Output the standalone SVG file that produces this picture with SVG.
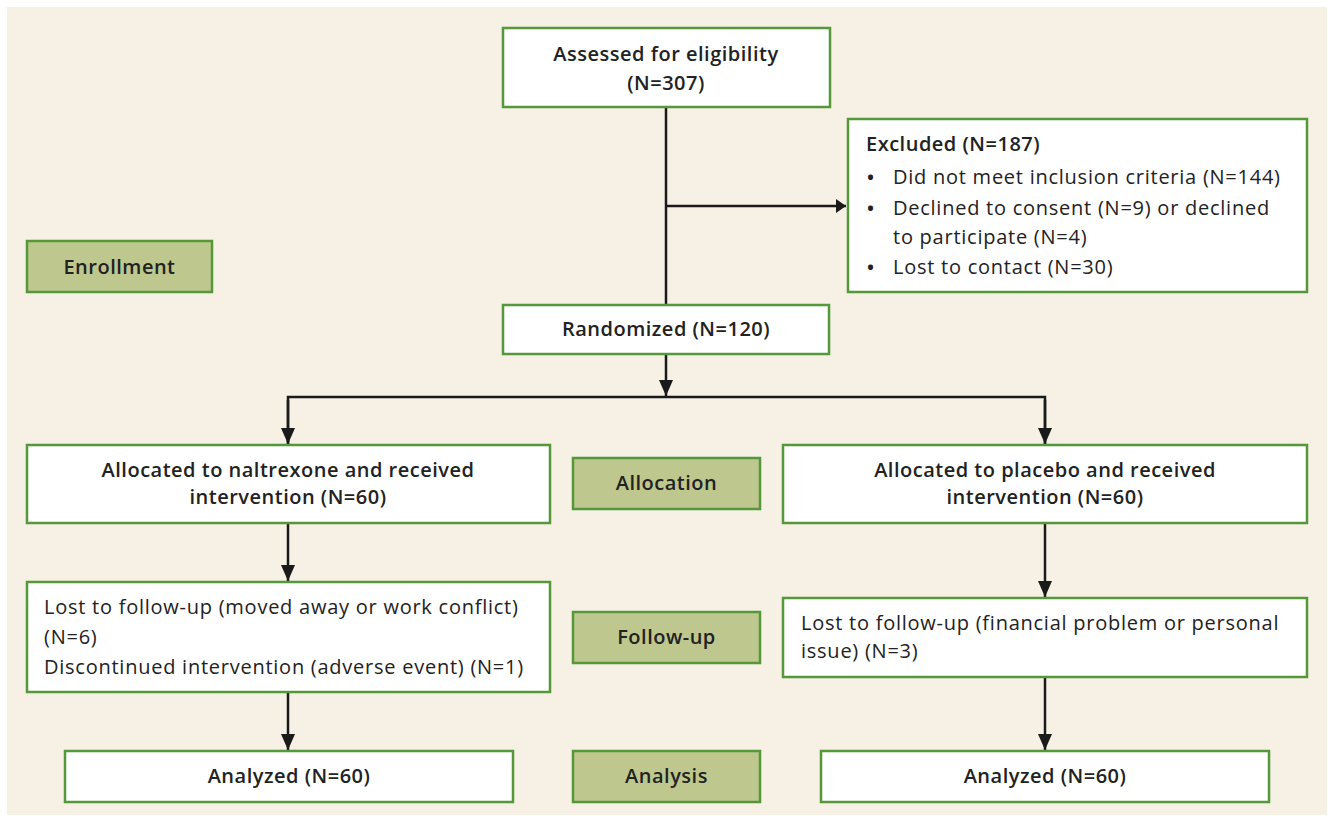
<svg xmlns="http://www.w3.org/2000/svg" width="1333" height="820" viewBox="0 0 1333 820">
<style>
.box{fill:#ffffff;stroke:#55983a;stroke-width:2.5}
.lab{fill:#bec88e;stroke:#55983a;stroke-width:2.5}
text{font-family:"Open Sans","Liberation Sans",sans-serif;font-size:20px;fill:#222;letter-spacing:0.75px}
.b{font-weight:600;letter-spacing:0.5px}
.c{text-anchor:middle}
.bul{font-size:24px}
.con{stroke:#1a1a1a;stroke-width:2.5;fill:none}
</style>
<defs>
<marker id="ah" markerWidth="10" markerHeight="14" refX="10" refY="7" orient="auto" markerUnits="userSpaceOnUse" viewBox="0 0 10 14">
<path d="M0,0 L10,7 L0,14 Z" fill="#1a1a1a"/>
</marker>
<marker id="av" markerWidth="14" markerHeight="16" refX="7" refY="16" orient="0" markerUnits="userSpaceOnUse" viewBox="0 0 14 16">
<path d="M0,0 L14,0 L7,16 Z" fill="#1a1a1a"/>
</marker>
</defs>
<rect x="0" y="0" width="1333" height="820" fill="#ffffff"/>
<rect x="7" y="7" width="1320" height="808" fill="#f6f0e5"/>
<g id="connectors">
<line class="con" x1="666" y1="107" x2="666" y2="305"/>
<line class="con" x1="666" y1="206" x2="846" y2="206" marker-end="url(#ah)"/>
<line class="con" x1="666" y1="354" x2="666" y2="396" marker-end="url(#av)"/>
<polyline class="con" points="288,445 288,397 1045,397 1045,445"/>
<line class="con" x1="288" y1="400" x2="288" y2="444" marker-end="url(#av)"/>
<line class="con" x1="1045" y1="400" x2="1045" y2="444" marker-end="url(#av)"/>
<line class="con" x1="288" y1="523" x2="288" y2="581" marker-end="url(#av)"/>
<line class="con" x1="1045" y1="523" x2="1045" y2="597" marker-end="url(#av)"/>
<line class="con" x1="288" y1="692" x2="288" y2="750" marker-end="url(#av)"/>
<line class="con" x1="1045" y1="677" x2="1045" y2="750" marker-end="url(#av)"/>
</g>
<g id="assessed">
<rect class="box" x="503" y="28" width="327" height="79"/>
<text class="b c" x="666" y="61">Assessed for eligibility</text>
<text class="b c" x="666" y="90">(N=307)</text>
</g>
<g id="excluded">
<rect class="box" x="848" y="119" width="459" height="173"/>
<text class="b" x="866" y="151">Excluded (N=187)</text>
<text class="bul" x="866" y="186">•</text><text x="893" y="184">Did not meet inclusion criteria (N=144)</text>
<text class="bul" x="866" y="217">•</text><text x="893" y="215">Declined to consent (N=9) or declined</text>
<text x="893" y="244">to participate (N=4)</text>
<text class="bul" x="866" y="276">•</text><text x="893" y="274">Lost to contact (N=30)</text>
</g>
<g id="enrollment">
<rect class="lab" x="27" y="241" width="185" height="51"/>
<text class="b c" x="119.5" y="274">Enrollment</text>
</g>
<g id="randomized">
<rect class="box" x="503" y="305" width="326" height="49"/>
<text class="b c" x="666" y="336">Randomized (N=120)</text>
</g>
<g id="alloc-naltrexone">
<rect class="box" x="27" y="445" width="523" height="78"/>
<text class="b c" x="288" y="477">Allocated to naltrexone and received</text>
<text class="b c" x="288" y="504">intervention (N=60)</text>
</g>
<g id="allocation">
<rect class="lab" x="573" y="458" width="187" height="51"/>
<text class="b c" x="666.5" y="490">Allocation</text>
</g>
<g id="alloc-placebo">
<rect class="box" x="783" y="445" width="524" height="78"/>
<text class="b c" x="1045" y="477">Allocated to placebo and received</text>
<text class="b c" x="1045" y="504">intervention (N=60)</text>
</g>
<g id="lost-left">
<rect class="box" x="27" y="582" width="523" height="110"/>
<text x="44" y="614">Lost to follow-up (moved away or work conflict)</text>
<text x="44" y="644">(N=6)</text>
<text x="44" y="674">Discontinued intervention (adverse event) (N=1)</text>
</g>
<g id="followup">
<rect class="lab" x="573" y="612" width="187" height="51"/>
<text class="b c" x="666.5" y="644">Follow-up</text>
</g>
<g id="lost-right">
<rect class="box" x="783" y="598" width="524" height="79"/>
<text x="801" y="630">Lost to follow-up (financial problem or personal</text>
<text x="801" y="658">issue) (N=3)</text>
</g>
<g id="analyzed-left">
<rect class="box" x="65" y="751" width="448" height="51"/>
<text class="b c" x="289" y="783">Analyzed (N=60)</text>
</g>
<g id="analysis">
<rect class="lab" x="573" y="751" width="187" height="51"/>
<text class="b c" x="666.5" y="783">Analysis</text>
</g>
<g id="analyzed-right">
<rect class="box" x="821" y="751" width="448" height="51"/>
<text class="b c" x="1045" y="783">Analyzed (N=60)</text>
</g>
</svg>
